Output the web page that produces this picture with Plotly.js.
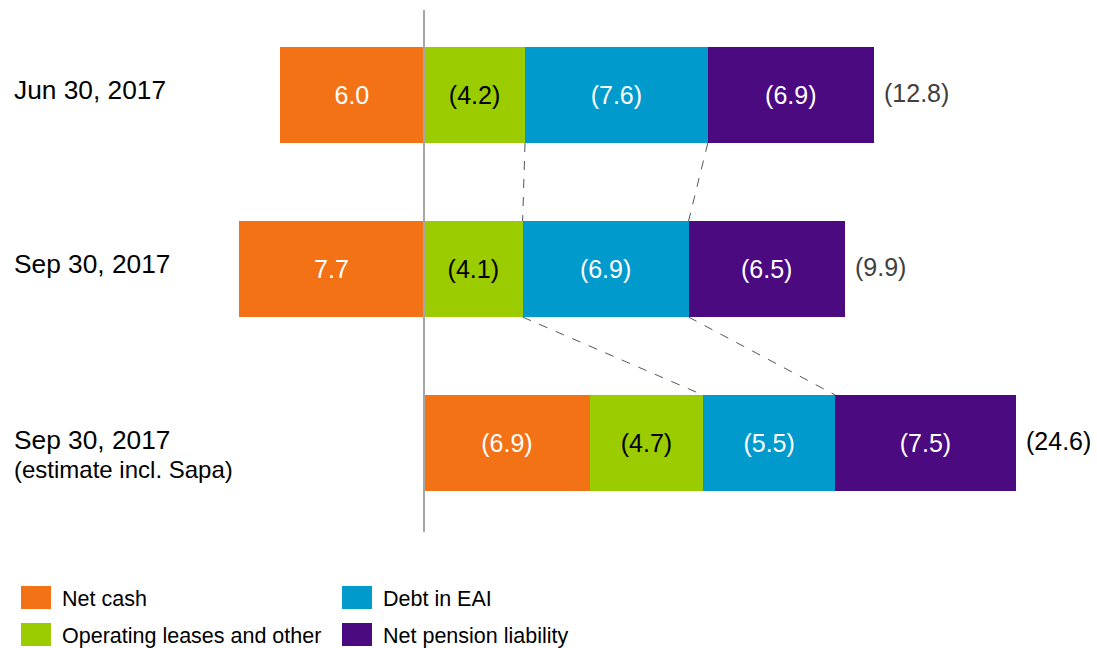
<!DOCTYPE html>
<html>
<head>
<meta charset="utf-8">
<script src="https://cdn.plot.ly/plotly-3.0.1.min.js"></script>
<style>
  html, body { margin: 0; padding: 0; background: #fff; }
  #chart { width: 1097px; height: 648px; }
</style>
</head>
<body>
<div id="chart"></div>
<script>
// Net debt build-up (NOK billion); positive = net cash, brackets = debt items
const rowLabels = ["Jun 30, 2017", "Sep 30, 2017", "Sep 30, 2017"];
const rowSubLabels = ["", "", "(estimate incl. Sapa)"];
const seriesNames = ["Net cash", "Operating leases and other", "Debt in EAI", "Net pension liability"];
const netCash = [6.0, 7.7, -6.9];
const operatingLeases = [-4.2, -4.1, -4.7];
const debtInEAI = [-7.6, -6.9, -5.5];
const netPension = [-6.9, -6.5, -7.5];
const totals = [-12.8, -9.9, -24.6];
const seriesColors = ["#F37216", "#9BCC00", "#009ACD", "#4B0A80"];
const labelColors = ["#ffffff", "#000000", "#ffffff", "#ffffff"];
const totalColors = ["#404040", "#404040", "#000000"];

const series = [netCash, operatingLeases, debtInEAI, netPension];
const rows = [0, 1, 2];
const barWidth = 0.552;
const FONT = "Liberation Sans, Arial, sans-serif";

function fmt(v) {
  return v < 0 ? "(" + Math.abs(v).toFixed(1) + ")" : v.toFixed(1);
}

const traces = series.map((vals, i) => ({
  type: "bar",
  orientation: "h",
  name: seriesNames[i],
  y: rows,
  x: vals,
  width: barWidth,
  marker: { color: seriesColors[i], line: { width: 0 } },
  text: vals.map(fmt),
  textposition: "inside",
  insidetextanchor: "middle",
  textangle: 0,
  constraintext: "none",
  insidetextfont: { family: FONT, size: 25, color: labelColors[i] },
  hoverinfo: "skip",
  showlegend: false
}));

// cumulative right-hand (negative) edge of each segment per row
function negEdges(r) {
  let acc = 0;
  return series.map(vals => {
    if (vals[r] < 0) acc += vals[r];
    return acc;
  });
}
const edges = rows.map(negEdges);
const negTotals = edges.map(e => e[e.length - 1]);

const shapes = [];
// dashed connectors between adjacent bars at the debt-segment boundaries
for (let r = 0; r < rows.length - 1; r++) {
  [1, 2].forEach(k => {
    shapes.push({
      type: "line", xref: "x", yref: "y",
      x0: edges[r][k], y0: rows[r] + barWidth / 2,
      x1: edges[r + 1][k], y1: rows[r + 1] - barWidth / 2,
      line: { color: "#555555", width: 1, dash: "dash" }
    });
  });
}
// zero line
shapes.push({
  type: "line", xref: "x", yref: "paper",
  x0: 0, x1: 0, y0: 0, y1: 1,
  line: { color: "#A6A6A6", width: 2 }, layer: "above"
});

const W = 1097, H = 648, ML = 200, MR = 50, MT = 10, MB = 116;
const PW = W - ML - MR, PH = H - MT - MB;
const PX_PER_UNIT = 24.05;
const px = x => (x - ML) / PW;
const py = y => (H - MB - y) / PH;

const annotations = [];
rows.forEach((r, i) => {
  const twoLine = rowSubLabels[i] !== "";
  annotations.push({
    xref: "paper", yref: "y", x: px(12), y: r, xanchor: "left", yanchor: "middle",
    yshift: twoLine ? 3 : 5,
    text: rowLabels[i], showarrow: false,
    font: { family: FONT, size: 26.3, color: "#000000" }
  });
  if (twoLine) {
    annotations.push({
      xref: "paper", yref: "y", x: px(12), y: r, xanchor: "left", yanchor: "middle",
      yshift: -26,
      text: rowSubLabels[i], showarrow: false,
      font: { family: FONT, size: 24, color: "#000000" }
    });
  }
  annotations.push({
    xref: "x", yref: "y", x: negTotals[i], y: r, xanchor: "left", yanchor: "middle",
    xshift: 8, yshift: 2,
    text: fmt(totals[i]), showarrow: false,
    font: { family: FONT, size: 25, color: totalColors[i] }
  });
});

// legend drawn as swatches + labels in two columns
const legendPos = [
  { x: 21, y: 597.5 }, { x: 21, y: 634.5 }, { x: 342, y: 597.5 }, { x: 342, y: 634.5 }
];
seriesNames.forEach((name, i) => {
  const p = legendPos[i];
  shapes.push({
    type: "rect", xref: "paper", yref: "paper",
    x0: px(p.x), x1: px(p.x + 30), y0: py(p.y - 11.5), y1: py(p.y + 11.5),
    fillcolor: seriesColors[i], line: { width: 0 }
  });
  annotations.push({
    xref: "paper", yref: "paper", x: px(p.x + 39), y: py(p.y + 1),
    xanchor: "left", yanchor: "middle", text: name, showarrow: false,
    font: { family: FONT, size: 21.5, color: "#000000" }
  });
});

const layout = {
  width: W, height: H,
  margin: { l: ML, r: MR, t: MT, b: MB },
  paper_bgcolor: "#ffffff", plot_bgcolor: "#ffffff",
  barmode: "relative",
  bargap: 0,
  xaxis: {
    range: [(424 - ML) / PX_PER_UNIT, -(W - MR - 424) / PX_PER_UNIT],
    showgrid: false, zeroline: false, showticklabels: false, showline: false, ticks: ""
  },
  yaxis: {
    range: [2.511, -0.4885],
    showgrid: false, zeroline: false, showticklabels: false, showline: false, ticks: ""
  },
  showlegend: false,
  shapes: shapes,
  annotations: annotations,
  font: { family: FONT }
};

Plotly.newPlot("chart", traces, layout, { displayModeBar: false, staticPlot: true });
</script>
</body>
</html>
